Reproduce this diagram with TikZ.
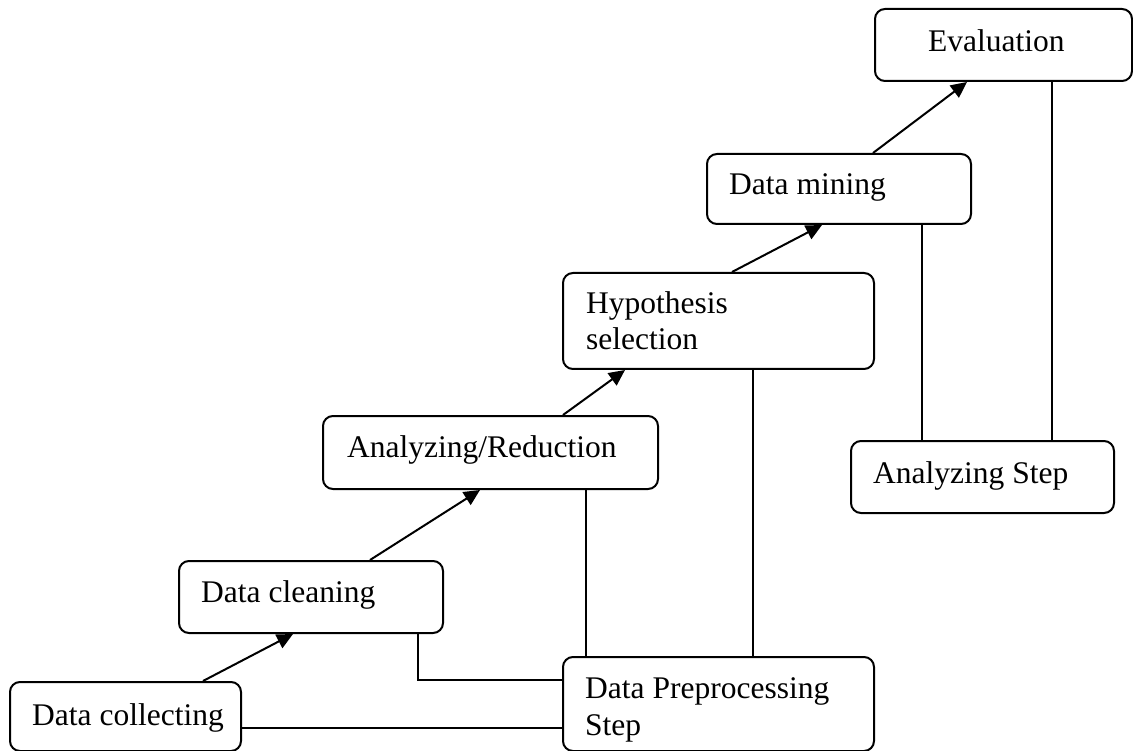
\documentclass[tikz,border=0pt]{standalone}
\usepackage{fontspec}
\setmainfont{Liberation Serif}
\usetikzlibrary{arrows.meta,calc}
\begin{document}
\begin{tikzpicture}[x=1pt,y=-1pt,
  box/.style={draw, line width=2pt, rounded corners=10pt, anchor=north west, inner sep=0pt},
  txt/.style={anchor=base west, inner sep=0pt, font=\fontsize{31.5}{36.5}\selectfont, align=left},
  conn/.style={line width=2pt},
  arr/.style={conn, -{Triangle[length=16pt,width=15pt]}}]
\useasboundingbox (0,0) rectangle (1133,751);
% boxes
\node[box, minimum width=231pt, minimum height=69pt] (dc)  at (9,681) {};
\node[box, minimum width=264pt, minimum height=72pt] (dcl) at (178,560) {};
\node[box, minimum width=335pt, minimum height=73pt] (ar)  at (322,415) {};
\node[box, minimum width=311pt, minimum height=96pt] (hyp) at (562,272) {};
\node[box, minimum width=264pt, minimum height=70pt] (dm)  at (706,153) {};
\node[box, minimum width=257pt, minimum height=72pt] (ev)  at (874,8) {};
\node[box, minimum width=263pt, minimum height=72pt] (as)  at (850,440) {};
\node[box, minimum width=311pt, minimum height=94pt] (dps) at (562,656) {};
% texts (base anchor = baseline of the last line)
\node[txt] (tdc)  at ([shift={(23pt,-44pt)}]dc.north west)  {Data collecting};
\node[txt] (tdcl) at ([shift={(23pt,-42pt)}]dcl.north west) {Data cleaning};
\node[txt] (tar)  at ([shift={(25pt,-42pt)}]ar.north west)  {Analyzing/Reduction};
\node[txt] (thyp) at ([shift={(24pt,-78pt)}]hyp.north west) {Hypothesis\\selection};
\node[txt] (tdm)  at ([shift={(23pt,-42pt)}]dm.north west)  {Data mining};
\node[txt] (tev)  at ([shift={(54pt,-44pt)}]ev.north west)  {Evaluation};
\node[txt] (tas)  at ([shift={(23pt,-43pt)}]as.north west)  {Analyzing Step};
\node[txt] (tdps) at ([shift={(23pt,-79pt)}]dps.north west) {Data Preprocessing\\Step};
% arrows
\draw[arr] ([xshift=194pt]dc.north west)  -- ([xshift=115pt]dcl.south west);
\draw[arr] ([xshift=192pt]dcl.north west) -- ([xshift=158pt]ar.south west);
\draw[arr] ([xshift=241pt]ar.north west)  -- ([xshift=63pt]hyp.south west);
\draw[arr] ([xshift=170pt]hyp.north west) -- ([xshift=116pt]dm.south west);
\draw[arr] ([xshift=167pt]dm.north west)  -- ([xshift=93pt]ev.south west);
% plain connectors
\coordinate (p1) at ([xshift=240pt]dcl.south west);
\coordinate (p1e) at ([yshift=-24pt]dps.north west);
\draw[conn] (p1) |- (p1e);
\coordinate (p2) at ([yshift=-47pt]dc.north east);
\draw[conn] (p2) -- (p2 -| dps.west);
\coordinate (p3) at ([xshift=264pt]ar.south west);
\draw[conn] (p3) -- (p3 |- dps.north);
\coordinate (p4) at ([xshift=191pt]hyp.south west);
\draw[conn] (p4) -- (p4 |- dps.north);
\coordinate (p5) at ([xshift=216pt]dm.south west);
\draw[conn] (p5) -- (p5 |- as.north);
\coordinate (p6) at ([xshift=178pt]ev.south west);
\draw[conn] (p6) -- (p6 |- as.north);
\end{tikzpicture}
\end{document}
